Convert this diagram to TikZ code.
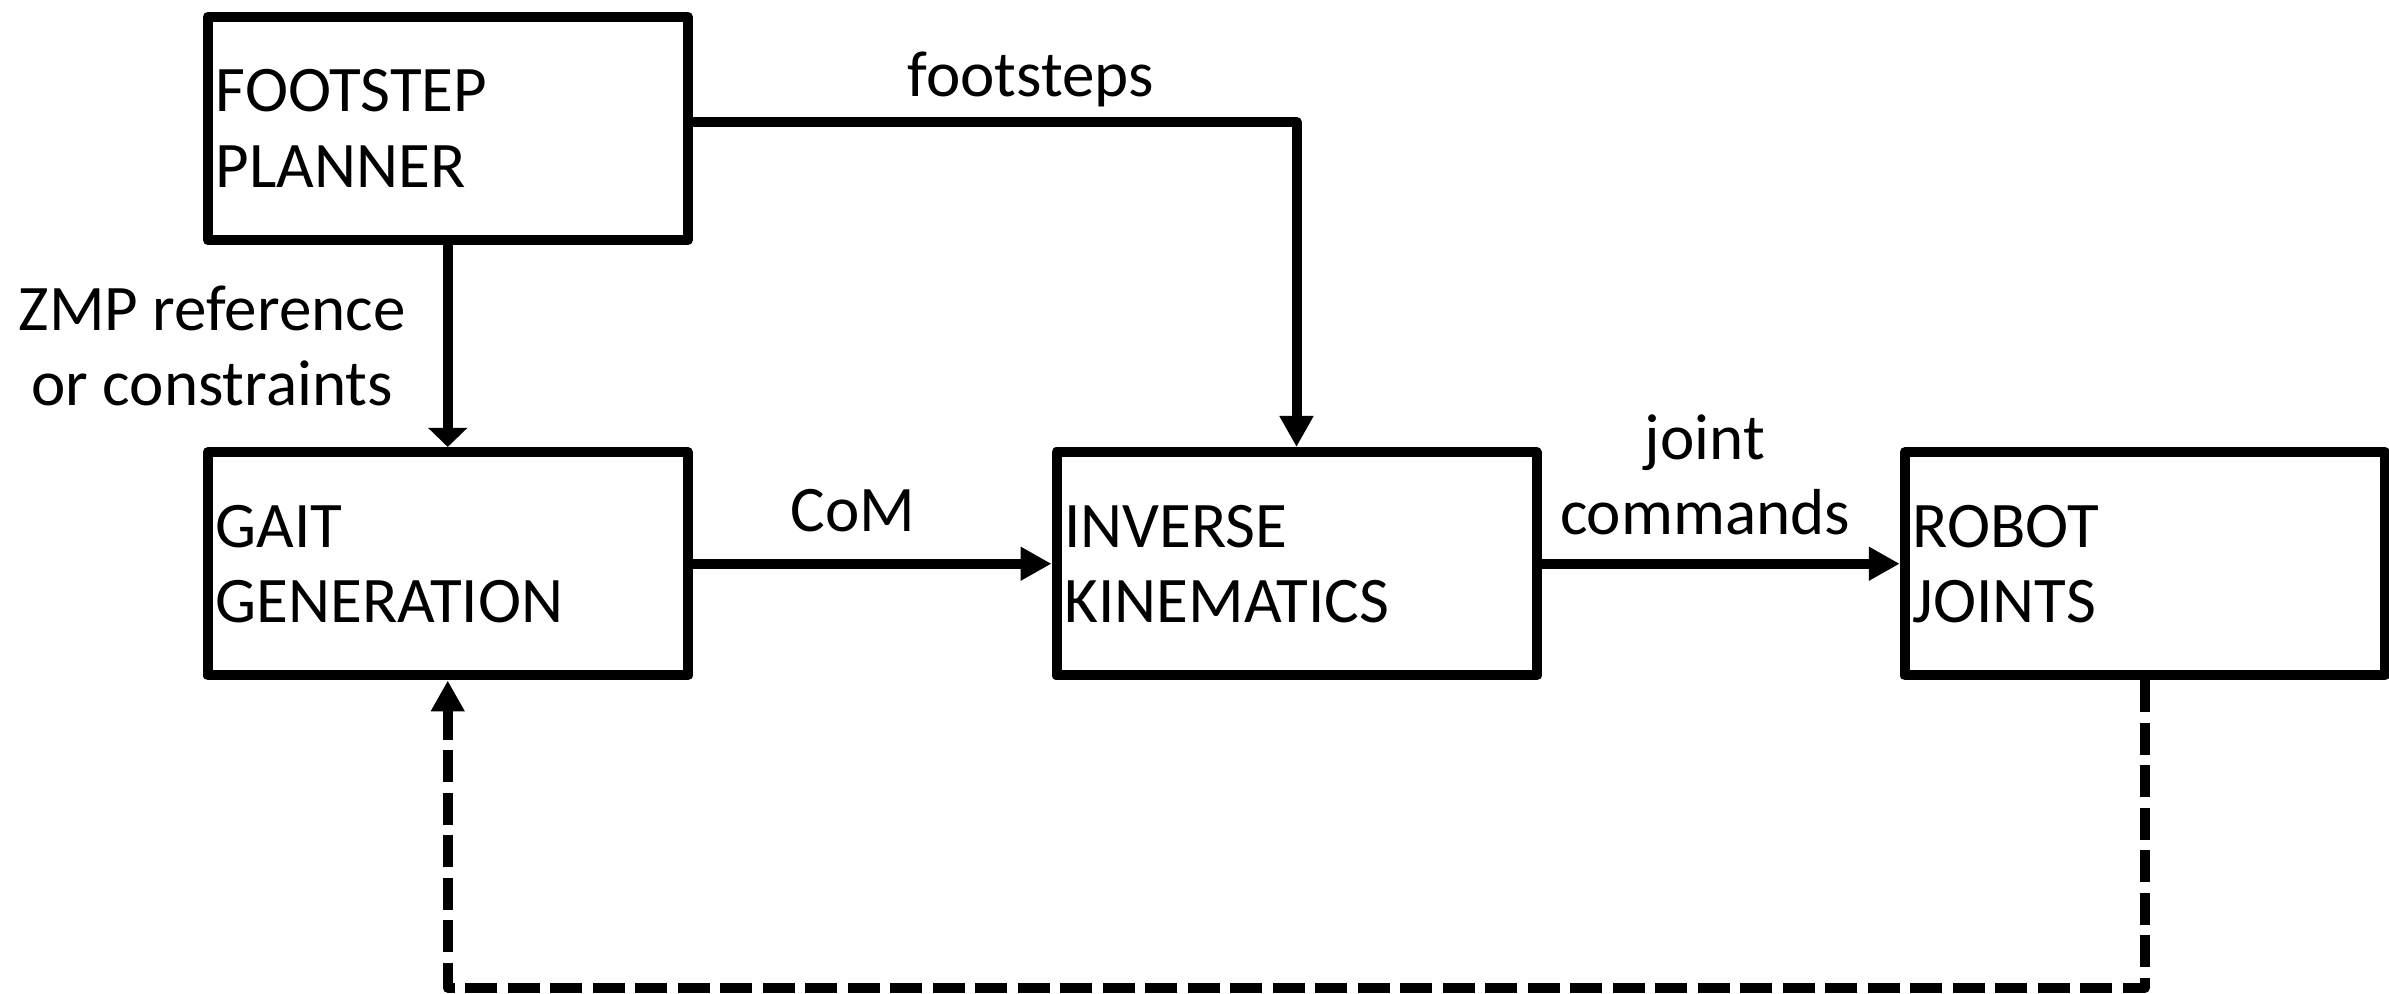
\documentclass[tikz,border=0pt]{standalone}
\usepackage{fontspec}
\setmainfont{Carlito}
\usetikzlibrary{arrows.meta}
\begin{document}
\begin{tikzpicture}[
  x=1cm, y=1cm,
  txt/.style={font=\fontsize{18.5}{21.4}\selectfont},
  block/.style={txt, draw, line width=1mm, line join=round,
    minimum width=4.8cm, minimum height=2.235cm,
    text width=4.64cm, inner xsep=0.08cm, inner ysep=0pt, align=left},
  flow/.style={line width=1mm, line join=round,
    -{Triangle[length=0.31cm,width=0.32cm]}},
  feedback/.style={flow, dash pattern=on 0.32cm off 0.105cm},
  lbl/.style={txt, align=center, inner sep=0pt, anchor=base},
]
\useasboundingbox (0,0) rectangle (23.89,-9.94);

% processing blocks
\node[block] (fp)   at (4.4775,-1.284)   {FOOTSTEP\\PLANNER};
\node[block] (gait) at (4.4775,-5.6375)  {GAIT\\GENERATION};
\node[block] (ik)   at (12.965,-5.6375)  {INVERSE\\KINEMATICS};
\node[block] (rj)   at (21.4475,-5.6375) {ROBOT\\JOINTS};

% signal flow
\draw[flow] ([yshift=0.064cm]fp.east) -| (ik.north);
\draw[line width=1mm, -{Triangle[length=0.19cm,width=0.38cm]}] (fp.south) -- (gait.north);
\draw[flow] (gait.east) -- (ik.west);
\draw[flow] (ik.east) -- (rj.west);

% feedback loop from the joints back to gait generation
\coordinate (low) at (0,-9.88);
\draw[feedback] (rj.south) -- (rj.south |- low) -| (gait.south);

% connector labels (base = baseline of the last line)
\node[lbl] (lfoot)  at (10.31,-0.97) {footsteps};
\node[lbl] (lzmp)   at (2.12,-4.06)  {ZMP reference\\or constraints};
\node[lbl] (lcom)   at (8.53,-5.32)  {CoM};
\node[lbl] (ljoint) at (17.05,-5.35) {joint\\commands};
\end{tikzpicture}
\end{document}
